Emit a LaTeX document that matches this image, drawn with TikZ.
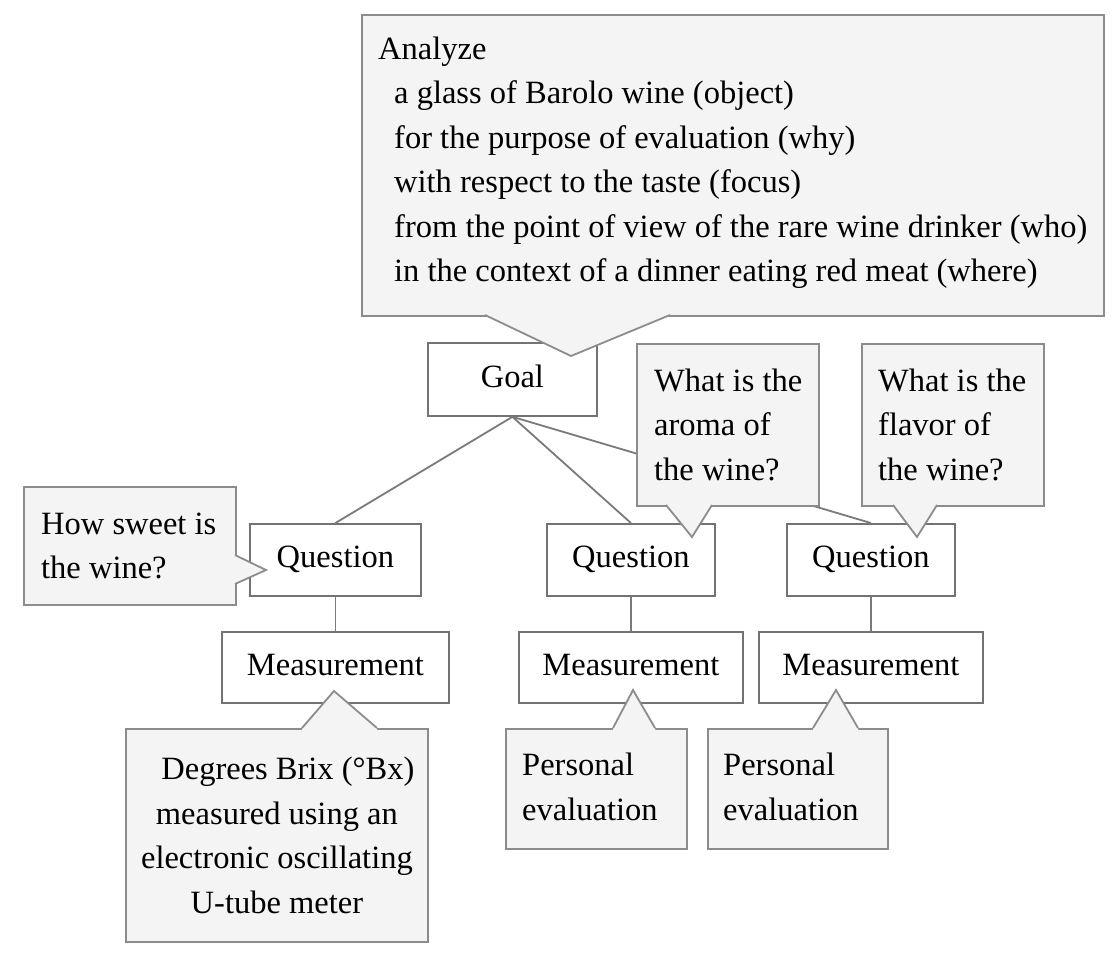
\documentclass[tikz,border=0pt]{standalone}
\usepackage{fontspec}
\setmainfont{Liberation Serif}
\usetikzlibrary{calc}
\definecolor{cfill}{HTML}{F4F4F4}
\definecolor{cline}{HTML}{8C8C8C}
\definecolor{bline}{HTML}{737373}
\definecolor{lnk}{HTML}{7A7A7A}
\newcommand\calloutptr[4]{%
  \fill[cfill] ($#1+#4$) -- #1 -- #2 -- #3 -- ($#3+#4$) -- cycle;
  \draw[ptrline] #1 -- #2 -- #3;}
\begin{document}
\begin{tikzpicture}[x=1pt,y=-1pt,
  font=\fontsize{32.5}{44.5}\selectfont,
  box/.style={draw=bline, fill=white, line width=1.8pt, inner sep=0pt,
    anchor=north west, text height=22pt, text depth=6pt},
  note/.style={draw=cline, fill=cfill, line width=1.8pt, inner sep=0pt,
    anchor=north west},
  notetext/.style={inner sep=0pt, align=left, anchor=west},
  link/.style={draw=lnk, line width=1.8pt},
  ptrline/.style={draw=cline, line width=1.8pt, line join=miter},
]
\useasboundingbox (0,0) rectangle (1114,954);

% main boxes
\node[box, minimum width=169, minimum height=73] (goal) at (427,342) {Goal};
\node[box, minimum width=171, minimum height=72] (q1) at (249,523) {Question};
\node[box, minimum width=168, minimum height=72] (q2) at (546,523) {Question};
\node[box, minimum width=168, minimum height=72] (q3) at (786,523) {Question};
\node[box, minimum width=227, minimum height=71] (m1) at (221,631) {Measurement};
\node[box, minimum width=224, minimum height=71] (m2) at (518,631) {Measurement};
\node[box, minimum width=224, minimum height=71] (m3) at (758,631) {Measurement};

% connectors
\draw[link] (goal.south) -- (q1.north);
\draw[link] (goal.south) -- (q2.north);
\draw[link] (goal.south) -- (q3.north);
\draw[link] (q1.south) -- (m1.north);
\draw[link] (q2.south) -- (m2.north);
\draw[link] (q3.south) -- (m3.north);

% callout boxes
\node[note, minimum width=742, minimum height=301] (goalnote) at (361,14) {};
\node[note, minimum width=182, minimum height=162] (aroma) at (636,343) {};
\node[note, minimum width=182, minimum height=162] (flavor) at (861,343) {};
\node[note, minimum width=212, minimum height=118] (sweet) at (23,486) {};
\node[note, minimum width=302, minimum height=213] (brix) at (125,728) {};
\node[note, minimum width=181, minimum height=120] (pers1) at (505,728) {};
\node[note, minimum width=180, minimum height=120] (pers2) at (707,728) {};

% callout pointers
\calloutptr{(485,315)}{(571,356)}{(670,315)}{(0,-3)}
\calloutptr{(666,505)}{(692,537)}{(712,505)}{(0,-3)}
\calloutptr{(893,505)}{(917,537)}{(937,505)}{(0,-3)}
\calloutptr{(235,555)}{(266,570)}{(235,584)}{(-3,0)}
\calloutptr{(302,728)}{(334,691)}{(377,728)}{(0,3)}
\calloutptr{(613,728)}{(633,690)}{(655,728)}{(0,3)}
\calloutptr{(813,728)}{(836,690)}{(858,728)}{(0,3)}

% callout texts
\node[notetext] (goaltext) at ($(goalnote.west)+(17,-2.5)$) {Analyze\\
\hspace*{16pt}a glass of Barolo wine (object)\\
\hspace*{16pt}for the purpose of evaluation (why)\\
\hspace*{16pt}with respect to the taste (focus)\\
\hspace*{16pt}from the point of view of the rare wine drinker (who)\\
\hspace*{16pt}in the context of a dinner eating red meat (where)};
\node[notetext] (aromatext) at ($(aroma.west)+(18,0)$) {What is the\\aroma of\\the wine?};
\node[notetext] (flavortext) at ($(flavor.west)+(17,0)$) {What is the\\flavor of\\the wine?};
\node[notetext] (sweettext) at ($(sweet.west)+(18,0)$) {How sweet is\\the wine?};
\node[inner sep=0pt, align=center] (brixtext) at (brix.center) {\hspace*{22pt}Degrees Brix (°Bx)\\measured using an\\electronic oscillating\\U-tube meter};
\node[notetext] (pers1text) at ($(pers1.west)+(17,-2)$) {Personal\\evaluation};
\node[notetext] (pers2text) at ($(pers2.west)+(16,-2)$) {Personal\\evaluation};
\end{tikzpicture}
\end{document}
